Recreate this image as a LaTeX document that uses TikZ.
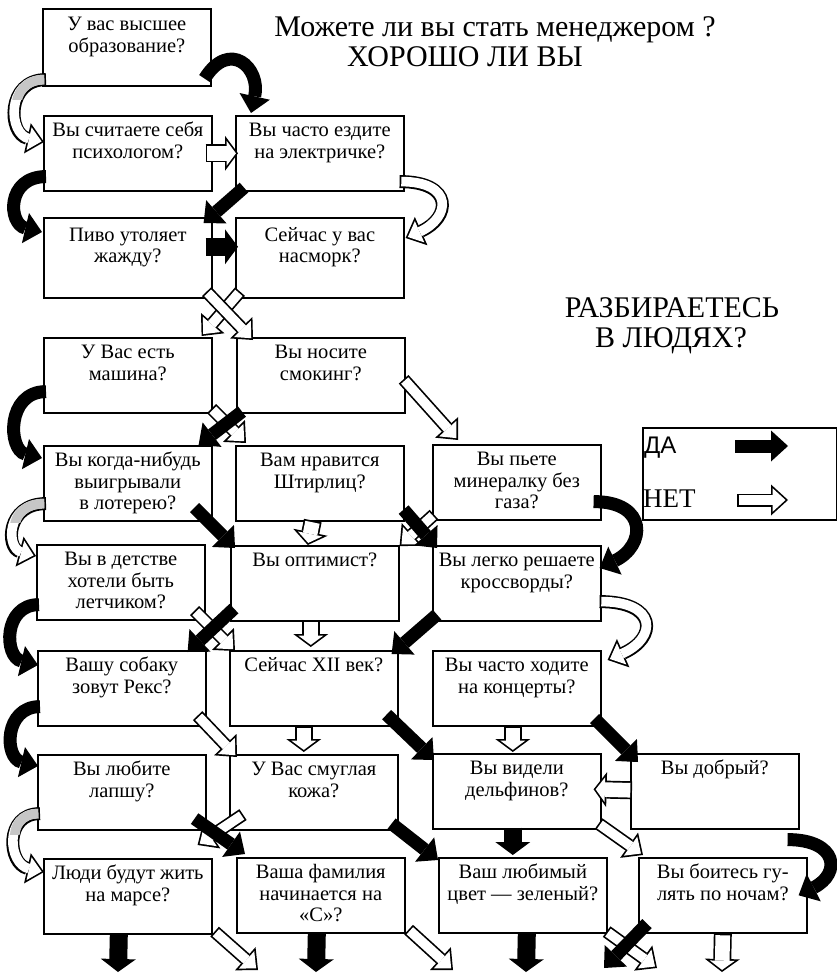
\documentclass[tikz,border=0pt]{standalone}
\usepackage{fontspec}
\setmainfont{Liberation Serif}
\newfontfamily\legsans{Liberation Sans}
\usepackage{tikz}
\usetikzlibrary{arrows.meta}

\newcommand{\qt}[1]{\parbox[c][63pt][t]{166pt}{\centering\strut #1}}

\begin{document}
\begin{tikzpicture}[
        x=1pt, y=-1pt,
        qbox/.style={rectangle, draw, line width=1.6pt, anchor=north west,
                     minimum width=168pt, minimum height=75pt, inner sep=0pt,
                     font=\fontsize{20.5}{21.5}\selectfont},
        title/.style={anchor=base, inner sep=0pt, font=\fontsize{30}{32}\selectfont},
        da/.style={black, line width=13pt,
                   -{Triangle[length=17pt, width=31pt, line width=0pt]}},
        dabig/.style={black, line width=18pt,
                   -{Triangle[length=13pt, width=35pt, line width=0pt]}},
        net/.style={white, line width=9.6pt, shorten <=1.7pt, shorten >=2.5pt,
                    -{Triangle[length=12.8pt, width=23.3pt, line width=0pt]},
                    preaction={draw, black, line width=13pt, shorten <=0pt, shorten >=0pt,
                               -{Triangle[length=17pt, width=31pt, line width=0pt]}}},
        netbig/.style={white, line width=14.6pt, shorten <=1.7pt, shorten >=2.1pt,
                    -{Triangle[length=9.2pt, width=24.7pt, line width=0pt]},
                    preaction={draw, black, line width=18pt, shorten <=0pt, shorten >=0pt,
                               -{Triangle[length=13pt, width=35pt, line width=0pt]}}},
        turned/.style={gray!45, line width=9.6pt, shorten <=1.7pt}
    ]
        \useasboundingbox (0,0) rectangle (836,973);

        % Titles
        \node[title] (head1) at (495,37) {Можете ли вы стать менеджером ?};
        \node[title] (head2) at (465,67) {ХОРОШО ЛИ ВЫ};
        \node[title] (head3) at (672,317) {РАЗБИРАЕТЕСЬ};
        \node[title] (head4) at (671,347) {В ЛЮДЯХ?};

        % Questions
        \node[qbox, minimum height=77pt] (a1) at (42,8) {\qt{У вас высшее\\образование?}};
        \node[qbox] (b1) at (43,115) {\qt{Вы считаете себя\\психологом?}};
        \node[qbox] (b2) at (235,115) {\qt{Вы часто ездите\\на электричке?}};
        \node[qbox, minimum height=80pt] (c1) at (43,217) {\qt{Пиво утоляет\\жажду?}};
        \node[qbox, minimum height=80pt] (c2) at (235,217) {\qt{Сейчас у вас\\насморк?}};
        \node[qbox] (d1) at (43,337) {\qt{У Вас есть\\машина?}};
        \node[qbox] (d2) at (236,337) {\qt{Вы носите\\смокинг?}};
        \node[qbox] (e1) at (43,445) {\qt{Вы когда-нибудь\\выигрывали\\в лотерею?}};
        \node[qbox] (e2) at (235,445) {\qt{Вам нравится\\Штирлиц?}};
        \node[qbox] (e3) at (432,444) {\qt{Вы пьете\\минералку без\\газа?}};
        \node[qbox] (f1) at (36,544) {\qt{Вы в детстве\\хотели быть\\летчиком?}};
        \node[qbox] (f2) at (230,545) {\qt{Вы оптимист?}};
        \node[qbox] (f3) at (432,545) {\qt{Вы легко решаете\\кроссворды?}};
        \node[qbox] (g1) at (37,650) {\qt{Вашу собаку\\зовут Рекс?}};
        \node[qbox] (g2) at (229,650) {\qt{Сейчас XII век?}};
        \node[qbox] (g3) at (432,650) {\qt{Вы часто ходите\\на концерты?}};
        \node[qbox] (h1) at (37,754) {\qt{Вы любите\\лапшу?}};
        \node[qbox] (h2) at (229,754) {\qt{У Вас смуглая\\кожа?}};
        \node[qbox] (h3) at (432,753) {\qt{Вы видели\\дельфинов?}};
        \node[qbox] (h4) at (630,753) {\qt{Вы добрый?}};
        \node[qbox] (i1) at (43,858) {\qt{Люди будут жить\\на марсе?}};
        \node[qbox] (i2) at (236,857) {\qt{Ваша фамилия\\начинается на\\«С»?}};
        \node[qbox] (i3) at (438,857) {\qt{Ваш любимый\\цвет — зеленый?}};
        \node[qbox] (i4) at (638,857) {\qt{Вы боитесь гу-\\лять по ночам?}};

        % Legend
        \node[draw, line width=1.6pt, anchor=north west, minimum width=194pt,
              minimum height=92pt] (legend) at (642,427) {};
        \node[anchor=base west, inner sep=0pt, font=\legsans\fontsize{24}{24}\selectfont]
              (yeslab) at (644,453) {ДА};
        \node[anchor=base west, inner sep=0pt, font=\fontsize{27}{27}\selectfont]
              (nolab) at (643,507) {НЕТ};
        \coordinate (ys) at (735,446);
        \coordinate (ye) at (788,446);
        \coordinate (ns) at (737,500);
        \coordinate (ne) at (788,500);
        \draw[da] (ys) -- (ye);
        \draw[net] (ns) -- (ne);

        % Free ends below the last row
        \coordinate (out1) at (118,972);
        \coordinate (out2) at (258,970);
        \coordinate (out3) at (316,972);
        \coordinate (out4) at (453,970);
        \coordinate (out5) at (526,972);
        \coordinate (out6) at (657,968);
        \coordinate (out7) at (604,968);
        \coordinate (out8) at (722,972);

        % Loops on the left
        \draw[net] ([shift={(4,-7)}]a1.south west) .. controls +(-40,0) and +(-36,-8) .. ([shift={(1,27)}]b1.north west);
        \begin{scope}
            \clip (0,68) rectangle (44,100);
            \draw[turned] ([shift={(4,-7)}]a1.south west) .. controls +(-40,0) and +(-36,-8) .. ([shift={(1,27)}]b1.north west);
        \end{scope}
        \draw[da] ([shift={(3,-15)}]b1.south west) .. controls +(-40,0) and +(-34,-8) .. ([shift={(-1,15)}]c1.north west);
        \draw[da] ([shift={(3,-22)}]d1.south west) .. controls +(-40,0) and +(-34,-8) .. ([shift={(-1,13)}]e1.north west);
        \draw[net] ([shift={(3,-18)}]e1.south west) .. controls +(-40,0) and +(-30,-8) .. ([shift={(0,12)}]f1.north west);
        \begin{scope}
            \clip (0,492) rectangle (44,522);
            \draw[turned] ([shift={(3,-18)}]e1.south west) .. controls +(-40,0) and +(-30,-8) .. ([shift={(0,12)}]f1.north west);
        \end{scope}
        \draw[da] ([shift={(3,-16)}]f1.south west) .. controls +(-36,0) and +(-34,-8) .. ([shift={(1,15)}]g1.north west);
        \draw[da] ([shift={(3,-20)}]g1.south west) .. controls +(-36,0) and +(-34,-8) .. ([shift={(1,12)}]h1.north west);
        \draw[net] ([shift={(3,-17)}]h1.south west) .. controls +(-36,0) and +(-36,-8) .. ([shift={(1,14)}]i1.north west);
        \begin{scope}
            \clip (0,802) rectangle (44,834);
            \draw[turned] ([shift={(3,-17)}]h1.south west) .. controls +(-36,0) and +(-36,-8) .. ([shift={(1,14)}]i1.north west);
        \end{scope}

        % Loops on the right
        \draw[da] ([shift={(-7,-8)}]a1.south east) .. controls +(25,-40) and +(10,-45) .. ([shift={(16,-2)}]b2.north west);
        \draw[net] ([shift={(-5,-10)}]b2.south east) .. controls +(55,0) and +(45,-20) .. ([shift={(1,21)}]c2.north east);
        \draw[da] ([shift={(-8,-19)}]e3.south east) .. controls +(55,0) and +(46,-22) .. ([shift={(-2,23)}]f3.north east);
        \draw[net] ([shift={(-2,-20)}]f3.south east) .. controls +(58,0) and +(50,-22) .. ([shift={(6,10)}]g3.north east);
        \draw[da] ([shift={(-12,10)}]h4.south east) .. controls +(50,0) and +(43,-22) .. ([shift={(-9,0)}]i4.east);

        % Straight arrows
        \draw[netbig] ([shift={(-7,0)}]b1.east) -- ([shift={(3,0)}]b2.west);
        \draw[da] ([shift={(9,-4)}]b2.south west) -- ([shift={(-9,6)}]c1.north east);
        \draw[dabig] ([shift={(-7,-11)}]c1.east) -- ([shift={(3,-11)}]c2.west);
        \draw[net] ([shift={(5,-7)}]c2.south west) -- ([shift={(-11,-1)}]d1.north east);
        \draw[net] ([shift={(-6,-7)}]c1.south east) -- ([shift={(17,3)}]d2.north west);
        \draw[net] ([shift={(-1,-5)}]d1.south east) -- ([shift={(11,-2)}]e2.north west);
        \draw[da] ([shift={(6,-2)}]d2.south west) -- ([shift={(-14,0)}]e1.north east);
        \draw[net] ([shift={(-2,4)}]d2.east) -- ([shift={(26,-4)}]e3.north west);
        \draw[da] ([shift={(-18,-14)}]e1.south east) -- ([shift={(5,3)}]f2.north west);
        \draw[netbig] ([shift={(-7,-1)}]e2.south) -- ([shift={(-7,0)}]f2.north);
        \draw[net] ([shift={(2,-6)}]e3.south west) -- ([shift={(0,1)}]f2.north east);
        \draw[da] ([shift={(-1,-12)}]e2.south east) -- ([shift={(5,3)}]f3.north west);
        \draw[net] ([shift={(-11,-10)}]f1.south east) -- ([shift={(6,1)}]g2.north west);
        \draw[da] ([shift={(4,-13)}]f2.south west) -- ([shift={(-19,2)}]g1.north east);
        \draw[netbig] ([shift={(-4,-1)}]f2.south) -- ([shift={(-3,-3)}]g2.north);
        \draw[da] ([shift={(5,-7)}]f3.south west) -- ([shift={(-7,4)}]g2.north east);
        \draw[net] ([shift={(-9,-11)}]g1.south east) -- ([shift={(8,3)}]h2.north west);
        \draw[netbig] ([shift={(-10,0)}]g2.south) -- ([shift={(-10,-2)}]h2.north);
        \draw[da] ([shift={(-12,-12)}]g2.south east) -- ([shift={(2,7)}]h3.north west);
        \draw[netbig] ([shift={(-4,0)}]g3.south) -- ([shift={(-4,-1)}]h3.north);
        \draw[da] ([shift={(-7,-8)}]g3.south east) -- ([shift={(8,9)}]h4.north west);
        \draw[net] ([shift={(14,-16)}]h2.south west) -- ([shift={(-15,-13)}]i1.north east);
        \draw[da] ([shift={(-12,-12)}]h1.south east) -- ([shift={(9,-3)}]i2.north west);
        \draw[da] ([shift={(-7,-7)}]h2.south east) -- ([shift={(0,3)}]i3.north west);
        \draw[dabig] ([shift={(-4,-2)}]h3.south) -- ([shift={(-10,-2)}]i3.north);
        \draw[netbig] ([shift={(2,-1)}]h4.west) -- ([shift={(-8,-2)}]h3.east);
        \draw[net] ([shift={(-3,-6)}]h3.south east) -- ([shift={(5,-2)}]i4.north west);

        % Exits of the last row
        \draw[dabig] ([shift={(-9,0)}]i1.south) -- (out1);
        \draw[net] ([shift={(2,-3)}]i1.south east) -- (out2);
        \draw[dabig] ([shift={(-4,0)}]i2.south) -- (out3);
        \draw[net] ([shift={(3,-4)}]i2.south east) -- (out4);
        \draw[dabig] ([shift={(4,0)}]i3.south) -- (out5);
        \draw[net] ([shift={(-1,-2)}]i3.south east) -- (out6);
        \draw[da] ([shift={(9,-10)}]i4.south west) -- (out7);
        \draw[netbig] (i4.south) -- (out8);
    \end{tikzpicture}
\end{document}
